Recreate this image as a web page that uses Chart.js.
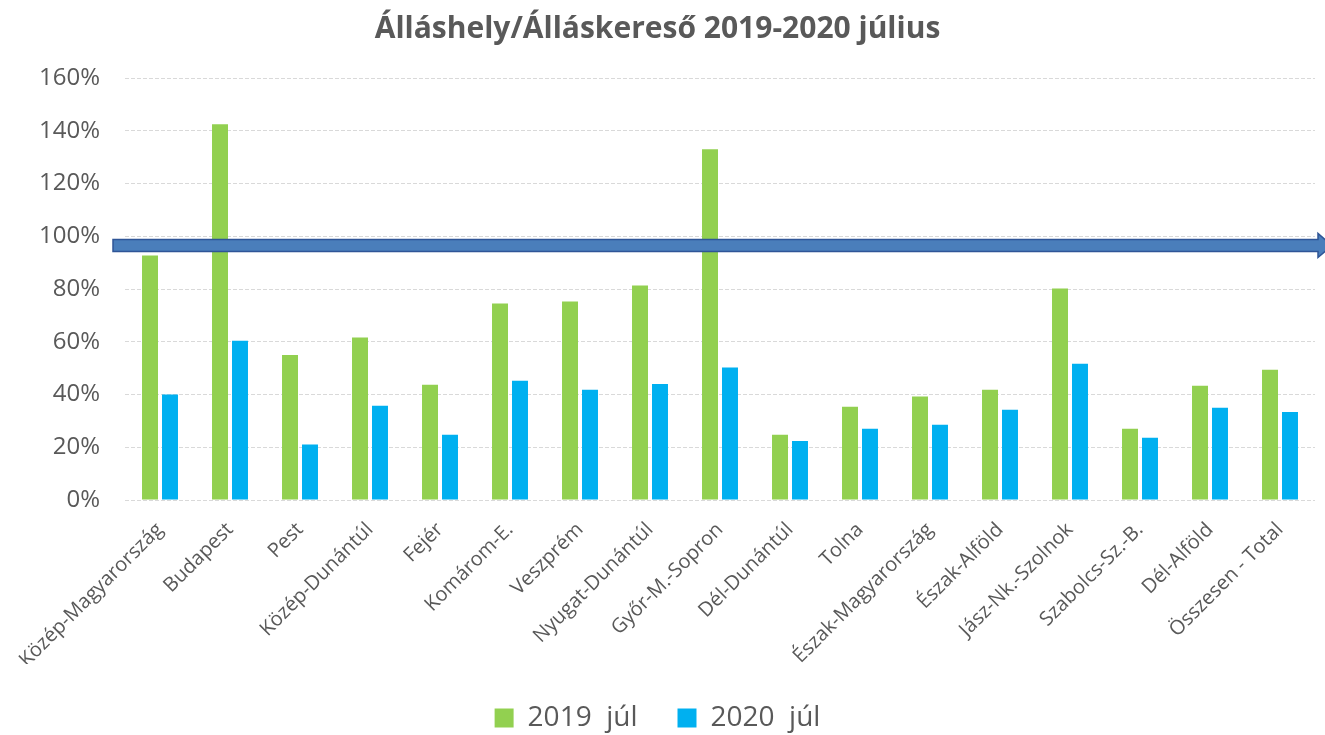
<!DOCTYPE html>
<html><head><meta charset="utf-8">
<script src="https://cdn.jsdelivr.net/npm/chart.js@4"></script>
<style>html,body{margin:0;padding:0;background:#fff}#wrap{width:1325px;height:735px}</style>
</head><body><div id="wrap"><canvas id="c" width="1325" height="735"></canvas></div>
<script>
const categories = ["Közép-Magyarország","Budapest","Pest","Közép-Dunántúl","Fejér","Komárom-E.","Veszprém","Nyugat-Dunántúl","Győr-M.-Sopron","Dél-Dunántúl","Tolna","Észak-Magyarország","Észak-Alföld","Jász-Nk.-Szolnok","Szabolcs-Sz.-B.","Dél-Alföld","Összesen - Total"];
const series2019 = [92.7,142.5,55,61.6,43.7,74.5,75.3,81.3,133,24.7,35.4,39.2,41.8,80.2,27,43.3,49.4];
const series2020 = [40,60.4,21,35.7,24.7,45.2,41.8,44,50.2,22.4,27,28.5,34.2,51.7,23.6,35,33.4];
const seriesNames = ["2019  júl","2020  júl"];
const yTicks = [0,20,40,60,80,100,120,140,160];
const arrowLevel = 96.5;

const arrowPlugin = {
  id:'arrow',
  afterDatasetsDraw(chart){
    const ctx = chart.ctx, y = chart.scales.y.getPixelForValue(arrowLevel);
    const x0 = chart.chartArea.left - 12, x1 = chart.width - 7, half = 6;
    ctx.save();
    ctx.beginPath();
    ctx.moveTo(x0, y-half); ctx.lineTo(x1, y-half); ctx.lineTo(x1, y-12);
    ctx.lineTo(x1+14, y); ctx.lineTo(x1, y+12); ctx.lineTo(x1, y+half);
    ctx.lineTo(x0, y+half); ctx.closePath();
    ctx.fillStyle = '#4A7EBB'; ctx.fill();
    ctx.lineWidth = 1.5; ctx.strokeStyle = '#2F5597'; ctx.stroke();
    ctx.restore();
  }
};

new Chart(document.getElementById('c'), {
  type:'bar',
  data:{labels:categories, datasets:[
    {label:seriesNames[0], data:series2019, backgroundColor:'#92D050', barPercentage:0.8, categoryPercentage:0.571},
    {label:seriesNames[1], data:series2020, backgroundColor:'#00B0F0', barPercentage:0.8, categoryPercentage:0.571}
  ]},
  options:{
    responsive:false, animation:false,
    layout:{padding:{left:0,right:10,top:0,bottom:-7}},
    plugins:{
      title:{display:true, text:'Álláshely/Álláskereső 2019-2020 július', color:'#595959',
        font:{family:'Open Sans', size:30, weight:'bold'}, padding:{top:11,bottom:31}},
      legend:{position:'bottom', labels:{color:'#595959', font:{family:'Open Sans', size:28},
        boxWidth:19, boxHeight:19, padding:40}},
      tooltip:{enabled:false}
    },
    scales:{
      x:{grid:{display:false}, border:{display:false},
        ticks:{color:'#595959', font:{family:'Open Sans', size:20}, minRotation:45, maxRotation:45, autoSkip:false, padding:10},
        afterFit(s){ s.height = 164; }},
      y:{min:0, max:160, afterBuildTicks(s){ s.ticks = yTicks.map(v=>({value:v})); },
        afterFit(s){ s.width = 125; },
        grid:{color:'#D9D9D9', drawTicks:false}, border:{display:false, dash:[4,2]},
        ticks:{color:'#595959', font:{family:'Open Sans', size:24}, padding:25, callback:v=>v+'%'}}
    }
  },
  plugins:[arrowPlugin]
});
</script></body></html>
